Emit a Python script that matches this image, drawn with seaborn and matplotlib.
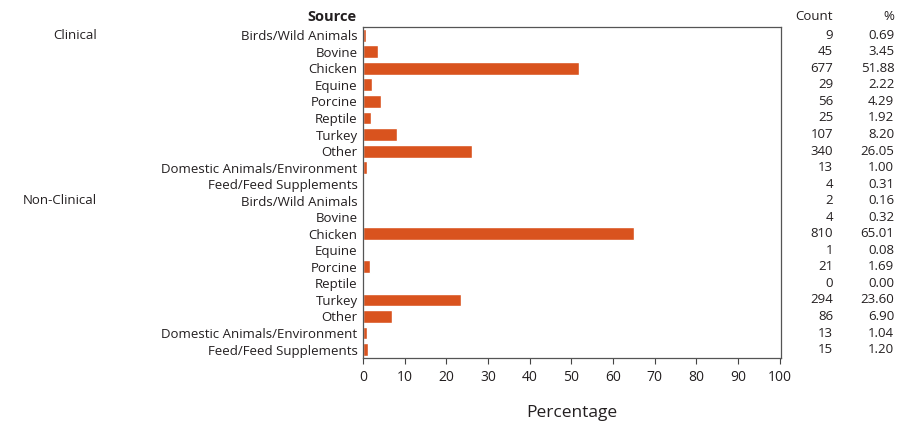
import numpy as np
import pandas as pd
import matplotlib
matplotlib.use('Agg')
import matplotlib.pyplot as plt
import seaborn as sns

sources = ['Birds/Wild Animals', 'Bovine', 'Chicken', 'Equine', 'Porcine',
           'Reptile', 'Turkey', 'Other', 'Domestic Animals/Environment',
           'Feed/Feed Supplements']
groups = ['Clinical', 'Non-Clinical']
clinical_count = [9, 45, 677, 29, 56, 25, 107, 340, 13, 4]
clinical_pct = [0.69, 3.45, 51.88, 2.22, 4.29, 1.92, 8.20, 26.05, 1.00, 0.31]
nonclinical_count = [2, 4, 810, 1, 21, 0, 294, 86, 13, 15]
nonclinical_pct = [0.16, 0.32, 65.01, 0.08, 1.69, 0.00, 23.60, 6.90, 1.04, 1.20]

rows = []
for g, counts, pcts in [(groups[0], clinical_count, clinical_pct),
                        (groups[1], nonclinical_count, nonclinical_pct)]:
    for s, c, p in zip(sources, counts, pcts):
        rows.append({'group': g, 'source': s, 'key': g + '|' + s, 'count': c, 'pct': p})
df = pd.DataFrame(rows)

sns.set_style('white')
plt.rcParams['font.family'] = ['Open Sans', 'DejaVu Sans']
bar_color = '#d9531e'
text_color = '#231f20'

fig = plt.figure(figsize=(9.17, 4.22), dpi=100)
ax = fig.add_axes([0.396, 0.152, 0.456, 0.784])

sns.barplot(data=df, x='pct', y='key', order=list(df['key']), orient='h',
            color=bar_color, saturation=1, width=0.78, ax=ax)

ax.set_xlim(0, 100.4)
ax.set_ylim(len(df) - 0.5, -0.5)
ax.set_xticks(np.arange(0, 101, 10))
ax.set_xticklabels([str(v) for v in range(0, 101, 10)], fontsize=10, color=text_color)
ax.set_yticks(range(len(df)))
ax.set_yticklabels(df['source'], fontsize=9.5, color=text_color)
ax.tick_params(axis='x', bottom=True, length=4, width=0.8, color='#444444', pad=5)
ax.tick_params(axis='y', left=False, length=0, pad=4)
ax.set_xlabel('Percentage', fontsize=12.5, color=text_color, labelpad=14)
ax.set_ylabel('')
for sp in ax.spines.values():
    sp.set_visible(True)
    sp.set_color('#555555')
    sp.set_linewidth(0.9)

# header and group labels
fig.text(357 / 917, 1 - 17 / 422, 'Source', ha='right', va='center',
         fontsize=10.5, fontweight='bold', color=text_color)
fig.text(833 / 917, 1 - 16 / 422, 'Count', ha='right', va='center',
         fontsize=9.5, color=text_color)
fig.text(894 / 917, 1 - 16 / 422, '%', ha='right', va='center',
         fontsize=9.5, color=text_color)

for i, r in df.iterrows():
    ax.text(1.0 + (833 - 781) / 917 / 0.456, i, str(r['count']),
            transform=ax.get_yaxis_transform(), ha='right', va='center',
            fontsize=9.5, color=text_color)
    ax.text(1.0 + (894 - 781) / 917 / 0.456, i, f"{r['pct']:.2f}",
            transform=ax.get_yaxis_transform(), ha='right', va='center',
            fontsize=9.5, color=text_color)

for g in groups:
    first = df.index[df['group'] == g][0]
    ax.text(-(363 - 97) / 917 / 0.456, first, g,
            transform=ax.get_yaxis_transform(), ha='right', va='center',
            fontsize=9.5, color=text_color)

fig.savefig('out.png', dpi=100)
